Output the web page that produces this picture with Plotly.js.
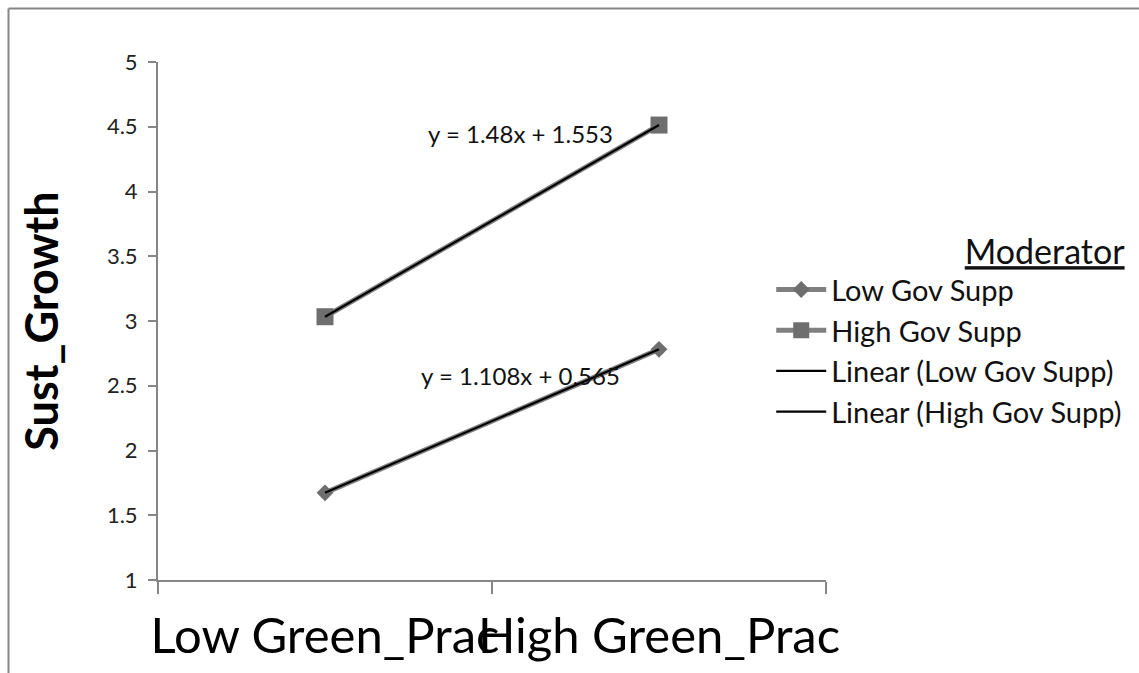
<!DOCTYPE html>
<html>
<head>
<meta charset="utf-8">
<script src="https://cdn.plot.ly/plotly-3.0.1.min.js"></script>
<style>html,body{margin:0;padding:0;background:#fff;}</style>
</head>
<body>
<div id="chart" style="width:1139px;height:673px;"></div>
<script>
// ---- data ----
const categories = ["Low Green_Prac", "High Green_Prac"];
const seriesNames = ["Low Gov Supp", "High Gov Supp"];
const lowGovSupp = [1.673, 2.781];
const highGovSupp = [3.033, 4.513];
const trendSlopes = [1.108, 1.48];
const trendIntercepts = [0.565, 1.553];
const trendLabels = ["y = 1.108x + 0.565", "y = 1.48x + 1.553"];
const yTickVals = [1, 1.5, 2, 2.5, 3, 3.5, 4, 4.5, 5];
const yTickText = ["1", "1.5", "2", "2.5", "3", "3.5", "4", "4.5", "5"];

const FONT = "Lato, 'Open Sans', sans-serif";
const seriesData = [lowGovSupp, highGovSupp];
const symbols = ["diamond", "square"];
const markerSizes = [13, 17];

const traces = [];
seriesData.forEach((vals, i) => {
  traces.push({
    type: "scatter", mode: "lines+markers",
    x: categories, y: vals, name: seriesNames[i],
    legendgroup: "g" + i,
    line: {color: "#808080", width: 5},
    marker: {symbol: symbols[i], size: markerSizes[i], color: "#6e6e6e"}
  });
});
seriesData.forEach((vals, i) => {
  const fit = categories.map((c, k) => trendSlopes[i] * (k + 1) + trendIntercepts[i]);
  traces.push({
    type: "scatter", mode: "lines",
    x: categories, y: fit, name: "Linear (" + seriesNames[i] + ")",
    legendgroup: "t" + i,
    line: {color: "#000000", width: 2.2}
  });
});

const layout = {
  width: 1139, height: 673,
  margin: {l: 158, r: 313, t: 62, b: 93, autoexpand: false},
  paper_bgcolor: "#ffffff", plot_bgcolor: "#ffffff",
  font: {family: FONT, color: "#000"},
  showlegend: true,
  legend: {
    x: 0.918, xanchor: "left", y: 0.695, yanchor: "top",
    font: {family: FONT, size: 29, color: "#111"},
    title: {text: "<u>Moderator</u>", side: "top right", font: {family: FONT, size: 34, color: "#111"}},
    traceorder: "grouped", tracegroupgap: 0,
    itemwidth: 50, bgcolor: "rgba(0,0,0,0)"
  },
  xaxis: {
    type: "category", range: [-0.5, 1.5],
    showgrid: false, zeroline: false,
    showline: true, linecolor: "#868686", linewidth: 2,
    ticks: "outside", tickson: "boundaries", ticklen: 12, tickcolor: "#868686", tickwidth: 2,
    tickfont: {family: FONT, size: 49, color: "#000"},
    tickangle: 0,
    ticklabelstandoff: 12,
    fixedrange: true
  },
  yaxis: {
    range: [1, 5], tickvals: yTickVals, ticktext: yTickText,
    showgrid: false, zeroline: false,
    showline: true, linecolor: "#868686", linewidth: 2,
    ticks: "outside", ticklen: 8, tickcolor: "#868686", tickwidth: 2,
    tickfont: {family: FONT, size: 22, color: "#222"},
    ticklabelstandoff: 6,
    title: {text: "<b>Sust_Growth</b>", standoff: 34, font: {family: FONT, size: 45, color: "#000"}},
    fixedrange: true
  },
  annotations: [
    {x: 0.585, y: 2.58, xref: "x", yref: "y", text: trendLabels[0], showarrow: false,
     font: {family: FONT, size: 24, color: "#111"}},
    {x: 0.585, y: 4.45, xref: "x", yref: "y", text: trendLabels[1], showarrow: false,
     font: {family: FONT, size: 24, color: "#111"}}
  ],
  shapes: [
    {type: "line", xref: "paper", yref: "paper", x0: -0.2238, x1: -0.2238, y0: 1.1033, y1: -0.3,
     line: {color: "#868686", width: 2}},
    {type: "line", xref: "paper", yref: "paper", x0: -0.2238, x1: 1.6, y0: 1.1033, y1: 1.1033,
     line: {color: "#868686", width: 2}}
  ]
};

Plotly.newPlot("chart", traces, layout, {displayModeBar: false, staticPlot: true});
</script>
</body>
</html>
